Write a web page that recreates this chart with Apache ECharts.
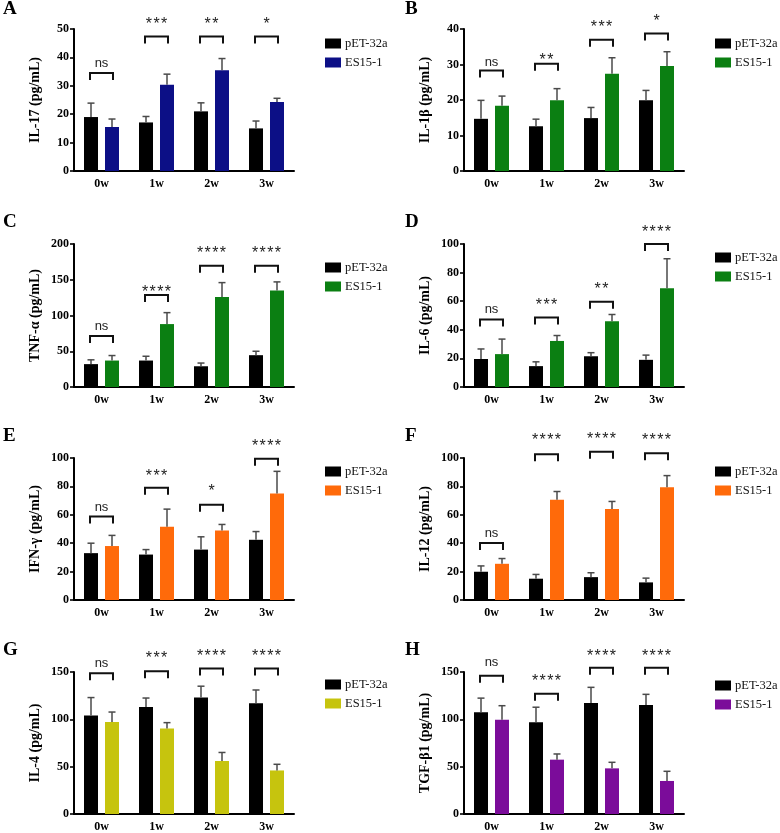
<!DOCTYPE html>
<html>
<head>
<meta charset="utf-8">
<script src="https://cdn.jsdelivr.net/npm/echarts@6/dist/echarts.min.js"></script>
<style>
  html, body { margin: 0; background: #fff; }
  #chart { width: 780px; height: 833px; }
</style>
</head>
<body>
<div id="chart"></div>
<script>
// categories
const weeks = ['0w', '1w', '2w', '3w'];

// A  IL-17
const il17Ctrl = [19.0, 17.1, 21.0, 15.0];
const il17CtrlSd = [4.9, 2.1, 3.0, 2.6];
const il17Es = [15.5, 30.4, 35.5, 24.3];
const il17EsSd = [2.8, 3.7, 4.1, 1.3];
const il17Sig = ['ns', '***', '**', '*'];
const il17Bracket = [34.5, 47.4, 47.4, 47.4];
const il17SigY = [38, 52.8, 52.8, 52.8];

// B  IL-1β
const il1bCtrl = [14.7, 12.6, 14.9, 19.9];
const il1bCtrlSd = [5.2, 2.0, 3.0, 2.8];
const il1bEs = [18.4, 19.9, 27.4, 29.6];
const il1bEsSd = [2.7, 3.3, 4.5, 4.0];
const il1bSig = ['ns', '**', '***', '*'];
const il1bBracket = [28.3, 30.2, 37.0, 38.7];
const il1bSigY = [30.5, 32.2, 41.4, 43.1];

// C  TNF-α
const tnfCtrl = [32, 37, 29, 44.5];
const tnfCtrlSd = [6, 6, 4.5, 5.5];
const tnfEs = [37, 88, 126, 135];
const tnfEsSd = [7, 16, 20, 12];
const tnfSig = ['ns', '****', '****', '****'];
const tnfBracket = [71.5, 128.5, 169.6, 169.6];
const tnfSigY = [85, 138, 192, 192];

// D  IL-6
const il6Ctrl = [19.6, 14.6, 21.5, 19.0];
const il6CtrlSd = [7, 3, 2.5, 3.3];
const il6Es = [23, 32.2, 46, 69];
const il6EsSd = [10.5, 3.8, 4.7, 20.7];
const il6Sig = ['ns', '***', '**', '****'];
const il6Bracket = [47.2, 48.6, 59.6, 100];
const il6SigY = [54, 59.4, 70.6, 111];

// E  IFN-γ
const ifnCtrl = [33, 32, 35.5, 42.4];
const ifnCtrlSd = [7, 3.5, 9, 5.8];
const ifnEs = [38, 51.5, 49, 75];
const ifnEsSd = [7.5, 12.5, 4.2, 15.6];
const ifnSig = ['ns', '***', '*', '****'];
const ifnBracket = [58.8, 79, 67, 99.5];
const ifnSigY = [65.5, 90, 78.9, 111];

// F  IL-12
const il12Ctrl = [19.9, 15.0, 16.1, 12.4];
const il12CtrlSd = [4.1, 3.0, 3.1, 3.0];
const il12Es = [25.5, 70.6, 64, 79.4];
const il12EsSd = [3.7, 5.8, 5.4, 8.2];
const il12Sig = ['ns', '****', '****', '****'];
const il12Bracket = [40.2, 102.6, 104.4, 103.3];
const il12SigY = [47.2, 115, 116, 115];

// G  IL-4
const il4Ctrl = [104, 113, 123, 117];
const il4CtrlSd = [19, 9.5, 12, 14];
const il4Es = [97.2, 90.2, 56, 46];
const il4EsSd = [10.5, 6.3, 9, 6.5];
const il4Sig = ['ns', '***', '****', '****'];
const il4Bracket = [148.6, 150.7, 153.8, 153.8];
const il4SigY = [159.5, 168, 171, 171];

// H  TGF-β1
const tgfCtrl = [107.4, 96.8, 117.3, 115.1];
const tgfCtrlSd = [15, 16, 16.5, 11.3];
const tgfEs = [99.6, 57.4, 48.2, 34.9];
const tgfEsSd = [14.8, 6, 6.4, 10.2];
const tgfSig = ['ns', '****', '****', '****'];
const tgfBracket = [146, 127, 154.6, 154.6];
const tgfSigY = [160.5, 143.8, 171, 171];

const panels = [
  { tag: 'A', title: 'IL-17 (pg/mL)', max: 50, step: 10, color: '#0c0f86', ctrl: il17Ctrl, ctrlSd: il17CtrlSd, es: il17Es, esSd: il17EsSd, sig: il17Sig, bracket: il17Bracket, sigY: il17SigY },
  { tag: 'B', title: 'IL-1β (pg/mL)', max: 40, step: 10, color: '#0b7f12', ctrl: il1bCtrl, ctrlSd: il1bCtrlSd, es: il1bEs, esSd: il1bEsSd, sig: il1bSig, bracket: il1bBracket, sigY: il1bSigY },
  { tag: 'C', title: 'TNF-α (pg/mL)', max: 200, step: 50, color: '#0b7f12', ctrl: tnfCtrl, ctrlSd: tnfCtrlSd, es: tnfEs, esSd: tnfEsSd, sig: tnfSig, bracket: tnfBracket, sigY: tnfSigY },
  { tag: 'D', title: 'IL-6 (pg/mL)', max: 100, step: 20, color: '#0b7f12', ctrl: il6Ctrl, ctrlSd: il6CtrlSd, es: il6Es, esSd: il6EsSd, sig: il6Sig, bracket: il6Bracket, sigY: il6SigY },
  { tag: 'E', title: 'IFN-γ (pg/mL)', max: 100, step: 20, color: '#ff6a0a', ctrl: ifnCtrl, ctrlSd: ifnCtrlSd, es: ifnEs, esSd: ifnEsSd, sig: ifnSig, bracket: ifnBracket, sigY: ifnSigY },
  { tag: 'F', title: 'IL-12 (pg/mL)', max: 100, step: 20, color: '#ff6a0a', ctrl: il12Ctrl, ctrlSd: il12CtrlSd, es: il12Es, esSd: il12EsSd, sig: il12Sig, bracket: il12Bracket, sigY: il12SigY },
  { tag: 'G', title: 'IL-4 (pg/mL)', max: 150, step: 50, color: '#c6c40e', ctrl: il4Ctrl, ctrlSd: il4CtrlSd, es: il4Es, esSd: il4EsSd, sig: il4Sig, bracket: il4Bracket, sigY: il4SigY },
  { tag: 'H', title: 'TGF-β1 (pg/mL)', max: 150, step: 50, color: '#7b0c9a', ctrl: tgfCtrl, ctrlSd: tgfCtrlSd, es: tgfEs, esSd: tgfEsSd, sig: tgfSig, bracket: tgfBracket, sigY: tgfSigY }
];

// layout
const colLeft = [74, 464];
const rowTop = [29, 244, 458, 672];
const rowHeight = [142, 143, 142, 142];
const tagTop = [0, 213, 427, 641];
const legendTop = [[32, 32], [256, 246], [460, 460], [673, 674]];

const SERIF = '"Liberation Serif", "Times New Roman", serif';
const SANS = '"Liberation Sans", Arial, sans-serif';
const BAR_W = 14;
const BAR_OFF = 10.5;

function errRender(params, api) {
  const mean = api.value(1), sd = api.value(2), side = api.value(3);
  const base = api.coord([api.value(0), mean]);
  const top = api.coord([api.value(0), mean + sd]);
  const x = base[0] + side * BAR_OFF;
  const st = { stroke: '#4a4a4a', lineWidth: 1.5 };
  return {
    type: 'group',
    children: [
      { type: 'line', shape: { x1: x, y1: base[1], x2: x, y2: top[1] }, style: st },
      { type: 'line', shape: { x1: x - 3.5, y1: top[1], x2: x + 3.5, y2: top[1] }, style: st }
    ]
  };
}

function bracketRender(sig, sigY) {
  return function (params, api) {
    const i = params.dataIndex;
    const p = api.coord([api.value(0), api.value(1)]);
    const t = api.coord([api.value(0), sigY[i]]);
    const half = 11.5, drop = 7;
    const star = sig[i] !== 'ns';
    return {
      type: 'group',
      children: [
        { type: 'polyline',
          shape: { points: [[p[0] - half, p[1] + drop], [p[0] - half, p[1]], [p[0] + half, p[1]], [p[0] + half, p[1] + drop]] },
          style: { stroke: '#111', lineWidth: 2, fill: null } },
        { type: 'text', x: p[0], y: t[1] + (star ? 4 : 0),
          style: { text: star ? sig[i].split('').join('\u200a') : sig[i], font: (star ? '16px ' : '13px ') + SANS, fill: '#222', align: 'center', verticalAlign: 'middle' } }
      ]
    };
  };
}

const grid = [], xAxis = [], yAxis = [], series = [], legend = [], title = [];

panels.forEach(function (p, i) {
  const col = i % 2, row = Math.floor(i / 2);
  grid.push({ left: colLeft[col], top: rowTop[row], width: 220, height: rowHeight[row] });
  xAxis.push({
    type: 'category', gridIndex: i, data: weeks,
    axisLine: { lineStyle: { color: '#000', width: 2 } },
    axisTick: { alignWithLabel: true, length: 4, lineStyle: { color: '#000', width: 1.6 } },
    axisLabel: { color: '#000', fontFamily: SERIF, fontWeight: 'bold', fontSize: 12, margin: 7 }
  });
  yAxis.push({
    type: 'value', gridIndex: i, min: 0, max: p.max, interval: p.step,
    name: p.title, nameLocation: 'middle', nameGap: 32,
    nameTextStyle: { color: '#000', fontFamily: SERIF, fontWeight: 'bold', fontSize: 14 },
    axisLine: { show: true, lineStyle: { color: '#000', width: 2 } },
    axisTick: { show: true, length: 4, lineStyle: { color: '#000', width: 1.6 } },
    axisLabel: { color: '#000', fontFamily: SERIF, fontWeight: 'bold', fontSize: 12, margin: 5 },
    splitLine: { show: false }
  });
  series.push({
    type: 'bar', name: 'pET-32a', xAxisIndex: i, yAxisIndex: i, data: p.ctrl,
    barWidth: BAR_W, barGap: '50%', itemStyle: { color: '#000' }
  });
  series.push({
    type: 'bar', name: 'ES15-1', xAxisIndex: i, yAxisIndex: i, data: p.es,
    barWidth: BAR_W, barGap: '50%', itemStyle: { color: p.color }
  });
  const errData = p.ctrl.map(function (v, k) { return [k, v, p.ctrlSd[k], -1]; })
    .concat(p.es.map(function (v, k) { return [k, v, p.esSd[k], 1]; }));
  series.push({
    type: 'custom', xAxisIndex: i, yAxisIndex: i, renderItem: errRender,
    data: errData, z: 3, silent: true
  });
  series.push({
    type: 'custom', xAxisIndex: i, yAxisIndex: i, renderItem: bracketRender(p.sig, p.sigY),
    data: p.bracket.map(function (v, k) { return [k, v]; }), clip: false, z: 4, silent: true
  });
  legend.push({
    orient: 'vertical', left: col === 0 ? 320 : 710, top: legendTop[row][col],
    itemWidth: 16, itemHeight: 10, itemGap: 6, icon: 'rect', selectedMode: false,
    textStyle: { color: '#111', fontFamily: SERIF, fontSize: 12.5, lineHeight: 13, padding: [0, 0, 0, -1] },
    data: [
      { name: 'pET-32a', itemStyle: { color: '#000' } },
      { name: 'ES15-1', itemStyle: { color: p.color } }
    ]
  });
  title.push({
    text: p.tag, left: col === 0 ? 3 : 405, top: tagTop[row], padding: 0,
    textStyle: { color: '#000', fontFamily: SERIF, fontWeight: 'bold', fontSize: 19 }
  });
});

const chart = echarts.init(document.getElementById('chart'), null, { renderer: 'canvas' });
chart.setOption({
  animation: false,
  backgroundColor: '#fff',
  title: title,
  legend: legend,
  grid: grid,
  xAxis: xAxis,
  yAxis: yAxis,
  series: series
});
</script>
</body>
</html>
